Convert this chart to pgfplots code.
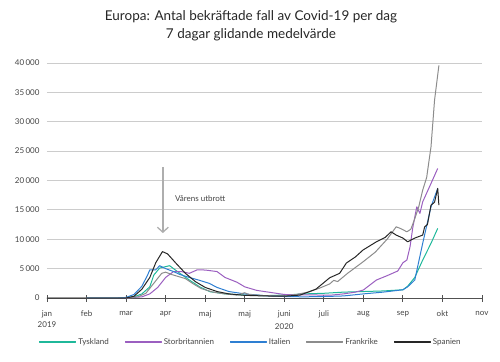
\documentclass[border=0pt]{standalone}
\usepackage{pgfplots}
\pgfplotsset{compat=1.18}
\usetikzlibrary{arrows.meta}
\usepackage{fontspec}
\setmainfont{Lato}
\definecolor{cTy}{HTML}{1FB89A}
\definecolor{cSt}{HTML}{9B5FC0}
\definecolor{cIt}{HTML}{2E7FD2}
\definecolor{cFr}{HTML}{8C8C8C}
\definecolor{cSp}{HTML}{262626}
\definecolor{cGrid}{HTML}{CCCCCC}
\definecolor{cTxt}{HTML}{444444}
\begin{document}
\begin{tikzpicture}[x=1pt,y=1pt]
\path (0,0) rectangle (500,361);
\node[font=\fontsize{13.5}{15}\selectfont, text=black!85] at (251,344) {Europa: Antal bekräftade fall av Covid-19 per dag};
\node[font=\fontsize{13.5}{15}\selectfont, text=black!85] at (251,326) {7 dagar glidande medelvärde};
\begin{axis}[
  at={(47pt,63pt)}, anchor=south west,
  scale only axis, width=435pt, height=235pt,
  xmin=0, xmax=11, ymin=0, ymax=40000,
  xtick={0,...,11},
  xticklabels={{jan\\2019},feb,mar,apr,maj,maj,{juni\\[2pt]2020},juli,aug,sep,okt,nov},
  xticklabel style={align=center, font=\fontsize{8}{11}\selectfont, text=cTxt, yshift=-6pt},
  ytick={0,5000,...,40000},
  scaled y ticks=false,
  yticklabel style={font=\fontsize{8}{9}\selectfont, text=cTxt, xshift=-4pt},
  /pgf/number format/.cd, 1000 sep={\,}, assume math mode=true, /pgfplots/.cd,
  ymajorgrids, grid style={cGrid, line width=0.9pt},
  axis x line*=bottom, axis y line*=left,
  y axis line style={draw=none},
  major y tick style={draw=none},
  x axis line style={-, cSp!80, line width=0.9pt},
  major x tick style={cSp!80, line width=0.9pt},
  major tick length=7pt,
  xtick align=center,
  clip=false,
  every axis legend/.style={cells={anchor=center}, inner xsep=3pt, inner ysep=2pt,
    nodes={inner sep=2pt, text depth=0.15em}, shape=rectangle},
  legend columns=5,
  legend style={at={(0.469,-0.187)}, anchor=center, font=\fontsize{8}{9}\selectfont,
    /tikz/every even column/.append style={column sep=14pt}},
  every axis plot/.append style={line width=1pt, line join=round},
]
\addlegendimage{legend image code/.code={\fill[cTy] (0pt,-0.5pt) rectangle (36pt,0.5pt);}}
\addlegendentry{\textcolor{cTxt}{Tyskland}}
\addlegendimage{legend image code/.code={\fill[cSt] (0pt,-0.5pt) rectangle (36pt,0.5pt);}}
\addlegendentry{\textcolor{cTxt}{Storbritannien}}
\addlegendimage{legend image code/.code={\fill[cIt] (0pt,-0.5pt) rectangle (36pt,0.5pt);}}
\addlegendentry{\textcolor{cTxt}{Italien}}
\addlegendimage{legend image code/.code={\fill[cFr] (0pt,-0.5pt) rectangle (36pt,0.5pt);}}
\addlegendentry{\textcolor{cTxt}{Frankrike}}
\addlegendimage{legend image code/.code={\fill[cSp] (0pt,-0.5pt) rectangle (36pt,0.5pt);}}
\addlegendentry{\textcolor{cTxt}{Spanien}}
\addplot[cTy, forget plot] coordinates {(1.0,0)(2.0,50)(2.2,200)(2.4,700)(2.6,1900)(2.7,3900)(2.85,5100)(3.1,5500)(3.35,4250)(3.6,3060)(3.86,1900)(4.12,1070)(4.5,700)(5.0,500)(5.5,400)(6.0,500)(6.5,700)(7.0,800)(7.5,1000)(8.0,1100)(8.5,1200)(9.0,1400)(9.12,2000)(9.3,3500)(9.5,6460)(9.71,9300)(9.88,11850)};
\addplot[cSt, forget plot] coordinates {(1.0,0)(2.0,0)(2.4,200)(2.6,700)(2.8,1800)(3.0,3500)(3.2,4500)(3.4,4500)(3.6,4200)(3.8,4800)(4.0,4760)(4.3,4500)(4.5,3500)(4.8,2700)(5.0,1900)(5.3,1300)(5.6,1000)(5.8,800)(6.0,600)(6.3,550)(6.6,550)(6.9,500)(7.2,500)(7.5,700)(7.8,1000)(8.0,1360)(8.33,3060)(8.6,3800)(8.87,4600)(9.0,6000)(9.1,6460)(9.18,8720)(9.25,12000)(9.35,15520)(9.43,14400)(9.5,16370)(9.71,19490)(9.88,22050)};
\addplot[cIt, forget plot] coordinates {(1.0,0)(1.8,0)(2.0,100)(2.2,600)(2.4,2000)(2.55,4000)(2.6,4800)(2.75,4800)(2.85,5500)(3.0,5000)(3.2,4500)(3.36,4000)(3.6,3500)(3.86,3000)(4.1,2500)(4.3,1800)(4.6,1100)(5.0,700)(5.5,400)(6.0,250)(6.5,200)(7.0,250)(7.5,350)(8.0,700)(8.5,1000)(9.0,1400)(9.12,1900)(9.3,3060)(9.5,9300)(9.71,15520)(9.88,18650)};
\addplot[cFr, forget plot] coordinates {(0,0)(2.0,0)(2.3,200)(2.5,800)(2.7,2500)(2.9,4200)(3.0,4400)(3.15,4000)(3.3,3700)(3.5,3300)(3.7,2400)(3.9,1600)(4.2,1000)(4.5,700)(4.8,500)(5.0,900)(5.1,600)(5.5,400)(6.0,350)(6.3,600)(6.6,1000)(6.9,1700)(7.15,2400)(7.25,3000)(7.35,2800)(7.6,4200)(8.0,6200)(8.3,7800)(8.6,10000)(8.83,12120)(8.95,11800)(9.1,11270)(9.2,11700)(9.3,13500)(9.4,15520)(9.5,18360)(9.6,20500)(9.71,25720)(9.8,33660)(9.91,39600)};
\addplot[cSp, forget plot] coordinates {(0,0)(2.0,0)(2.2,300)(2.4,1500)(2.6,3500)(2.75,6000)(2.92,7900)(3.05,7500)(3.25,6000)(3.5,4200)(3.75,2800)(4.0,1800)(4.3,1100)(4.6,700)(5.0,450)(5.5,350)(6.0,300)(6.4,500)(6.8,1500)(7.15,3450)(7.4,4200)(7.57,5950)(7.8,7000)(7.99,8160)(8.33,9570)(8.55,10300)(8.70,11270)(8.83,10710)(9.0,10200)(9.12,9570)(9.3,10200)(9.5,10710)(9.55,12120)(9.62,12500)(9.71,15800)(9.8,16300)(9.88,18650)(9.91,15800)};
\draw[-{Straight Barb[length=5pt,width=11pt]}, cFr!70, line width=1.3pt] (axis cs:2.93,22300) -- (axis cs:2.93,11050);
\node[anchor=west, font=\fontsize{8}{9}\selectfont, text=cTxt] at (axis cs:3.15,16950) {Vårens utbrott};
\end{axis}
\end{tikzpicture}
\end{document}
